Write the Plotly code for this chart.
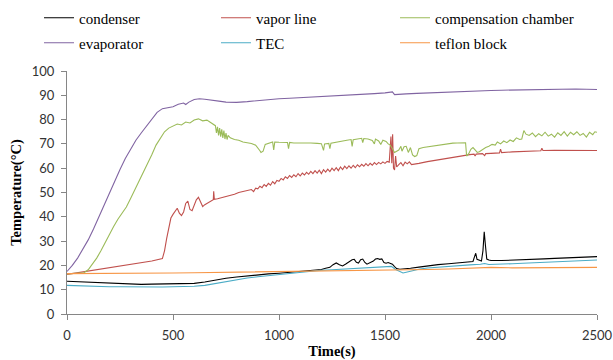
import plotly.graph_objects as go

# ---------------- data ----------------
evap_t = [0,25,50,75,100,125,150,175,200,225,250,275,300,325,350,375,400,425,450,475,500,525,550,560,575,600,625,650,675,700,725,750,775,800,850,900,950,1000,1050,1100,1150,1200,1250,1300,1350,1400,1450,1500,1525,1535,1545,1560,1600,1650,1700,1750,1800,1850,1900,1950,2000,2050,2100,2150,2200,2250,2300,2350,2400,2450,2500]
evap_v = [17.5,20,23,26.5,30.5,35,40,45,50,55,59.5,64,68,71.5,74.5,77.5,80.5,83,84.5,85,85.3,86.3,86.8,86.2,87.2,88.3,88.6,88.4,88,87.8,87.5,87.2,87,87.1,87.4,87.9,88.3,88.6,88.8,89,89.2,89.4,89.7,90,90.2,90.4,90.7,91,91.3,91.4,90.3,90.3,90.6,90.8,91,91.2,91.4,91.5,91.6,91.8,92,92.1,92.2,92.3,92.3,92.4,92.4,92.5,92.6,92.5,92.4]

comp_t = [0,20,40,60,80,100,120,140,160,180,200,220,240,260,280,300,320,340,360,380,400,420,440,460,480,500,520,540,560,580,600,620,640,660,680,700,705,710,715,720,725,730,735,740,745,750,755,760,770,790,810,830,850,870,890,900,910,915,925,935,950,970,975,980,1000,1020,1040,1045,1050,1070,1100,1120,1150,1180,1200,1210,1215,1235,1240,1245,1270,1300,1320,1340,1345,1350,1370,1390,1395,1400,1420,1440,1450,1455,1470,1480,1490,1505,1515,1525,1535,1545,1555,1565,1575,1580,1590,1600,1610,1620,1630,1640,1650,1660,1680,1700,1720,1740,1760,1780,1800,1820,1840,1860,1880,1885,1895,1905,1915,1925,1935,1945,1960,1975,1990,2005,2020,2030,2045,2060,2075,2090,2105,2120,2135,2145,2155,2165,2180,2195,2210,2225,2240,2255,2270,2285,2300,2315,2330,2345,2360,2375,2390,2405,2420,2435,2450,2465,2480,2490,2500]
comp_v = [16.5,16.6,16.5,16.7,17,18.2,20.5,23,26,29.5,33,36,39,41.5,44,47.5,51,54.5,58,62,65.5,69.5,72.5,75,76.5,77.5,78.2,77.8,79,78.6,79.8,80.3,79.5,79.8,78.8,77.5,74.5,77,73.5,76.5,73,76,72.5,75.5,72,74.5,71.8,73.5,72.5,71.8,71.5,70.8,70.5,70.2,69.5,68.5,67.2,66.5,67,69.8,70.2,70.8,67.5,70.8,70.7,70.5,70.6,68,70.6,70.4,70.5,70.3,70.4,70.2,70.1,67.3,70,70.2,68,70.3,70.6,71,71.5,71.8,69,71.7,72,72.3,70.5,72.2,72,71.4,70,72,71.2,69.8,71.5,71,70,69.5,68,66.5,67,67.5,69,67,68.8,69,66.5,68.5,65.5,64.8,65.2,68,68.5,68.8,69.1,69.4,69.7,70,70.2,70.3,70.4,70.5,70.5,65,66,67.8,68.5,67.5,66.5,66.8,67.8,68.5,69,69.8,69.5,70.8,70,71.2,70.5,71.6,71,72.5,71.8,72,75.5,74,73.5,74.5,73,74.2,73.3,74.8,73.2,74,72.8,74.6,73.5,75,73.2,74.8,73.8,75,73.5,74.3,72.8,74.8,73.8,75,74.8]

vap_t = [0,50,100,150,200,250,300,350,400,450,460,470,480,490,500,510,520,530,540,550,560,570,580,590,600,610,620,630,640,650,660,670,680,690,692,695,710,730,750,770,790,810,830,850,870,880,890,900,910,920,930,940,950,960,970,980,990,1000,1010,1020,1030,1040,1050,1060,1070,1080,1090,1100,1110,1120,1130,1140,1150,1160,1170,1180,1190,1200,1210,1220,1230,1240,1250,1260,1270,1280,1290,1300,1310,1320,1330,1340,1350,1360,1370,1380,1390,1400,1410,1420,1430,1440,1450,1460,1470,1480,1490,1500,1510,1520,1528,1532,1536,1540,1545,1550,1555,1565,1575,1585,1595,1605,1615,1625,1640,1660,1700,1750,1800,1850,1880,1900,1920,1925,1930,1960,1970,1975,2000,2040,2045,2050,2100,2150,2200,2235,2240,2245,2300,2350,2400,2450,2500]
vap_v = [16.3,17,17.7,18.3,19,19.6,20.3,21,21.8,22.8,26,31,36,39.5,41,42.5,43.5,41.5,40.5,42,45.5,46.5,43,42.5,45,47,48,46,44.2,45,45.5,46,46.3,47,50.5,47.2,47.4,47.8,48.3,48.8,49.3,50,50.3,50.6,51.2,50.4,51.8,51.5,52.6,52,53.3,52.5,53.8,53,54.5,53.6,55,54.6,55.8,55.2,56.5,55.8,57,56.2,57.3,56.5,57.8,56.8,58,57.2,58.3,57.5,58.7,57.8,59,58,59.2,57.8,59.4,58.4,59.6,58.6,60,59,60.2,59,60.5,59.4,60.8,59.8,61,60,61.2,60.2,61.4,60.6,61.6,60.8,61.9,61,62,61.2,62.3,61.5,62.4,61.8,62.6,62,62.8,62.5,73,62,74,60,59.3,65,60.5,61.5,62.3,61,62.5,61.8,62.6,61.5,61.6,62,62.7,63.5,64.3,65,65.4,65.6,65.8,65,65.8,66,65.2,66,66.1,66.3,67.8,66.4,66.7,66.9,67,67.2,68.2,67.3,67.4,67.4,67.5,67.4,67.3]

cond_t = [0,50,100,150,200,250,300,350,400,450,500,550,600,650,700,750,800,850,900,950,1000,1050,1100,1150,1200,1220,1240,1255,1270,1285,1300,1315,1330,1345,1355,1365,1375,1385,1395,1405,1415,1430,1445,1455,1465,1475,1485,1495,1505,1515,1525,1535,1545,1555,1570,1590,1620,1660,1700,1750,1800,1850,1900,1915,1922,1928,1934,1945,1955,1962,1968,1974,1980,1990,2000,2050,2100,2150,2200,2250,2300,2350,2400,2450,2500]
cond_v = [13.5,13.3,13,12.7,12.5,12.3,12.2,12.2,12.3,12.3,12.4,12.4,12.6,13.2,14,14.7,15.2,15.7,16.1,16.5,16.8,17.2,17.6,18,18.3,18.8,19.2,20.3,21,20.3,19.8,20.6,21.5,22.3,22.5,21.3,21,22.3,22.6,21.2,20.5,21,21.8,22.6,22.8,22.5,22.7,21.2,20.9,21.2,20.9,20.5,19.5,18.7,18.4,18.5,18.8,19.3,19.8,20.3,20.7,21.1,21.5,21.6,23.5,25,22.5,22.1,21.8,26,33.8,28,22.6,22.2,22,22,22.1,22.3,22.5,22.7,22.9,23.1,23.3,23.5,23.6]

tec_t = [0,50,100,150,200,250,300,350,400,450,500,550,600,650,700,750,800,850,900,950,1000,1050,1100,1150,1200,1250,1300,1350,1400,1450,1500,1530,1550,1570,1585,1600,1630,1665,1700,1750,1800,1850,1900,1950,1970,1990,2000,2050,2100,2150,2200,2250,2300,2350,2400,2450,2500]
tec_v = [11.8,11.6,11.4,11.3,11.2,11.2,11.1,11.1,11.1,11.1,11.2,11.2,11.4,11.8,12.6,13.5,14.2,14.8,15.3,15.8,16.3,16.8,17.3,17.7,18,18.2,18.4,18.7,18.9,19.2,19.5,19.6,18.3,17.3,16.9,17.2,17.9,18.5,18.9,19.3,19.6,19.9,20.2,20.5,20.8,20.4,20.4,20.5,20.7,20.9,21.1,21.3,21.5,21.7,21.9,22.1,22.2]

tef_t = [0,100,200,300,400,500,600,700,800,900,1000,1100,1200,1300,1400,1500,1600,1700,1800,1900,2000,2100,2200,2300,2400,2500]
tef_v = [16.6,16.6,16.7,16.8,16.8,16.9,17,17.1,17.2,17.4,17.5,17.7,17.8,17.9,18,18.1,18.1,18.3,18.5,18.8,19.2,19,19.1,19.2,19.3,19.2]

x_ticks = [0, 500, 1000, 1500, 2000, 2500]
y_ticks = [0, 10, 20, 30, 40, 50, 60, 70, 80, 90, 100]

# ---------------- figure ----------------
series = [
    ("condenser", cond_t, cond_v, "#000000", "legend"),
    ("vapor line", vap_t, vap_v, "#C0504D", "legend2"),
    ("compensation chamber", comp_t, comp_v, "#9BBB59", "legend3"),
    ("evaporator", evap_t, evap_v, "#8064A2", "legend4"),
    ("TEC", tec_t, tec_v, "#4BACC6", "legend5"),
    ("teflon block", tef_t, tef_v, "#F79646", "legend6"),
]

fig = go.Figure()
for name, t, v, col, lg in series:
    fig.add_trace(go.Scatter(x=t, y=v, mode="lines", name=name,
                             line=dict(color=col, width=1.1), legend=lg))

axis_col = "#868686"
tick_font = dict(family="Lato", size=13, color="#333333")
title_font = dict(family="Liberation Serif", size=14.5, color="#000000")
legend_font = dict(family="Liberation Serif", size=15, color="#000000")

col_x = [-0.0528, 0.2811, 0.6189]
row_y = [1.218, 1.115]
legend_pos = {}
names = ["legend", "legend2", "legend3", "legend4", "legend5", "legend6"]
for i, nm in enumerate(names):
    legend_pos[nm] = dict(orientation="h", x=col_x[i % 3], y=row_y[i // 3],
                          xanchor="left", yanchor="middle", font=legend_font,
                          bgcolor="rgba(0,0,0,0)", itemwidth=30)

fig.update_layout(
    width=613, height=360,
    margin=dict(l=67, r=16, t=71, b=46, autoexpand=False),
    paper_bgcolor="white", plot_bgcolor="white",
    showlegend=True,
    **legend_pos,
    xaxis=dict(range=[0, 2500], tickvals=x_ticks, ticktext=[str(v) for v in x_ticks],
               showgrid=False, zeroline=False, showline=True, linecolor=axis_col, linewidth=1,
               ticks="outside", ticklen=5, tickcolor=axis_col, tickfont=tick_font,
               ticklabelstandoff=4,
               title=dict(text="<b>Time(s)</b>", font=title_font, standoff=5)),
    yaxis=dict(range=[0, 100], tickvals=y_ticks, ticktext=[str(v) for v in y_ticks],
               showgrid=False, zeroline=False, showline=True, linecolor=axis_col, linewidth=1,
               ticks="outside", ticklen=5, tickcolor=axis_col, tickfont=tick_font,
               ticklabelstandoff=4,
               title=dict(text="<b>Temperature(°C)</b>", font=title_font, standoff=6)),
)

fig.write_html("out.html")
